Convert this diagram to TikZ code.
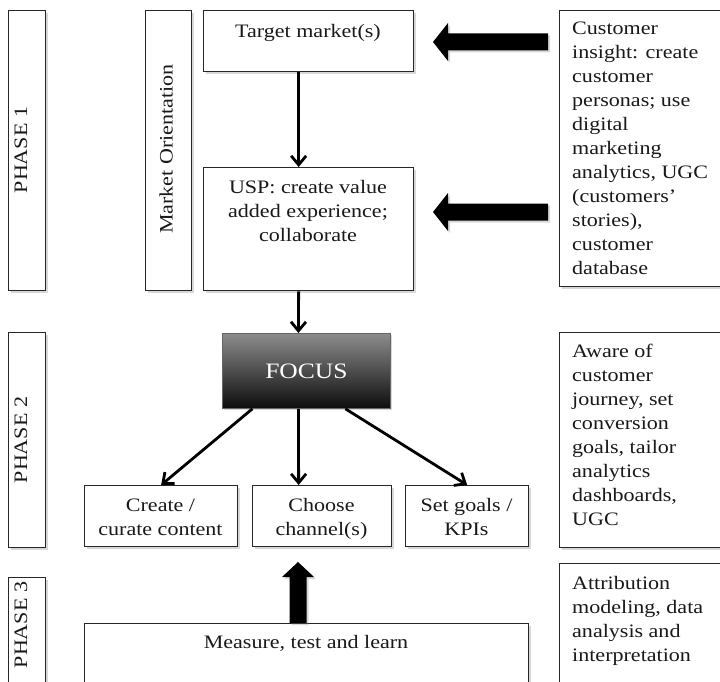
\documentclass[tikz,border=0pt]{standalone}
\usepackage{fontspec}
\setmainfont[FakeStretch=1.16]{Liberation Serif}
\usetikzlibrary{arrows.meta,shadows,calc}
\begin{document}
\begin{tikzpicture}[x=1pt,y=-1pt,
  box/.style={draw=black!85, line width=1.3pt, fill=white, inner sep=0pt,
    drop shadow={shadow xshift=2pt, shadow yshift=-2pt, opacity=0.3}},
  txt/.style={inner sep=0pt, font=\fontsize{19}{24}\selectfont, text=black!90},
  conn/.style={line width=2.8pt, -{Straight Barb[length=9pt,width=15pt]}},
  blk/.style={fill=black, drop shadow={shadow xshift=2pt, shadow yshift=-2pt, opacity=0.3}}]
\useasboundingbox (0,0) rectangle (720,682);
\fill[white] (0,0) rectangle (720,682);
\clip (0,0) rectangle (720,682);

% boxes
\node[box, anchor=north west, minimum width=37, minimum height=280] (p1) at (8,10) {};
\node[box, anchor=north west, minimum width=46, minimum height=280] (mo) at (145,10) {};
\node[box, anchor=north west, minimum width=210, minimum height=61] (t) at (203,10) {};
\node[box, anchor=north west, minimum width=210, minimum height=123] (u) at (203,167) {};
\node[box, anchor=north west, minimum width=175, minimum height=276] (c1) at (559,10) {};
\node[box, anchor=north west, minimum width=153, minimum height=61] (cr) at (84,485) {};
\node[box, anchor=north west, minimum width=139, minimum height=61] (ch) at (252,485) {};
\node[box, anchor=north west, minimum width=123, minimum height=61] (sg) at (405,485) {};
\node[box, anchor=north west, minimum width=37, minimum height=215] (p2) at (8,332) {};
\node[box, anchor=north west, minimum width=175, minimum height=215] (c2) at (559,332) {};
\node[box, anchor=north west, minimum width=37, minimum height=130] (p3) at (8,577) {};
\node[box, anchor=north west, minimum width=175, minimum height=130] (c3) at (559,563) {};
\node[box, anchor=north west, minimum width=444, minimum height=80] (m) at (84,623) {};

% focus
\node[anchor=north west, minimum width=168, minimum height=75, inner sep=0pt,
  top color=black!45, bottom color=black!95, draw=black!60, line width=0.8pt,
  drop shadow={shadow xshift=2pt, shadow yshift=-2pt, opacity=0.3},
  font=\fontsize{22}{26}\selectfont, text=white] (f) at (222,333) {FOCUS};

% texts (multi-line: base anchor = last line's baseline)
\node[txt, rotate=90] (p1t) at (21,150) {PHASE 1};
\node[txt, rotate=90] (mot) at (166,149) {Market Orientation};
\node[txt, rotate=90] (p2t) at (21,440) {PHASE 2};
\node[txt, rotate=90] (p3t) at (21,625) {PHASE 3};
\node[txt, anchor=base] (tt) at (308,37.5) {Target market(s)};
\node[txt, anchor=base, align=center] (ut) at (308,241) {USP: create value\\added experience;\\collaborate};
\node[txt, anchor=base west, align=left] (c1t) at (572,274) {Customer\\insight: create\\customer\\personas; use\\digital\\marketing\\analytics, UGC\\(customers’\\stories),\\customer\\database};
\node[txt, anchor=base west, align=left] (c2t) at (572,525) {Aware of\\customer\\journey, set\\conversion\\goals, tailor\\analytics\\dashboards,\\UGC};
\node[txt, anchor=base west, align=left] (c3t) at (572,661) {Attribution\\modeling, data\\analysis and\\interpretation};
\node[txt, anchor=base, align=center] (crt) at (160.5,535) {Create /\\curate content};
\node[txt, anchor=base, align=center] (cht) at (321.5,535) {Choose\\channel(s)};
\node[txt, anchor=base, align=center] (sgt) at (466.5,535) {Set goals /\\KPIs};
\node[txt, anchor=base] (mt) at (306,648) {Measure, test and learn};

% connectors
\draw[conn] ([xshift=-10]t.south) -- ([xshift=-10]u.north);
\draw[conn] ([xshift=-10]u.south) -- ([xshift=-8]f.north);
\draw[conn] ([xshift=-54]f.south) -- (cr.north);
\draw[conn] ([xshift=-8]f.south) -- ([xshift=-23.5]ch.north);
\draw[conn] ([xshift=39]f.south) -- (sg.north);

% block arrows
\coordinate (a1) at (433,42);
\coordinate (a2) at (433,212);
\coordinate (a3) at (298,562);
\fill[blk, shift={(a1)}] (0,0) -- (15,-19) -- (15,-8.5) -- (115,-8.5) -- (115,8.5) -- (15,8.5) -- (15,19) -- cycle;
\fill[blk, shift={(a2)}] (0,0) -- (15,-19) -- (15,-8.5) -- (115,-8.5) -- (115,8.5) -- (15,8.5) -- (15,19) -- cycle;
\fill[blk, shift={(a3)}] (0,0) -- (16,15) -- (8.5,15) -- (8.5,61) -- (-8.5,61) -- (-8.5,15) -- (-16,15) -- cycle;
\end{tikzpicture}
\end{document}
